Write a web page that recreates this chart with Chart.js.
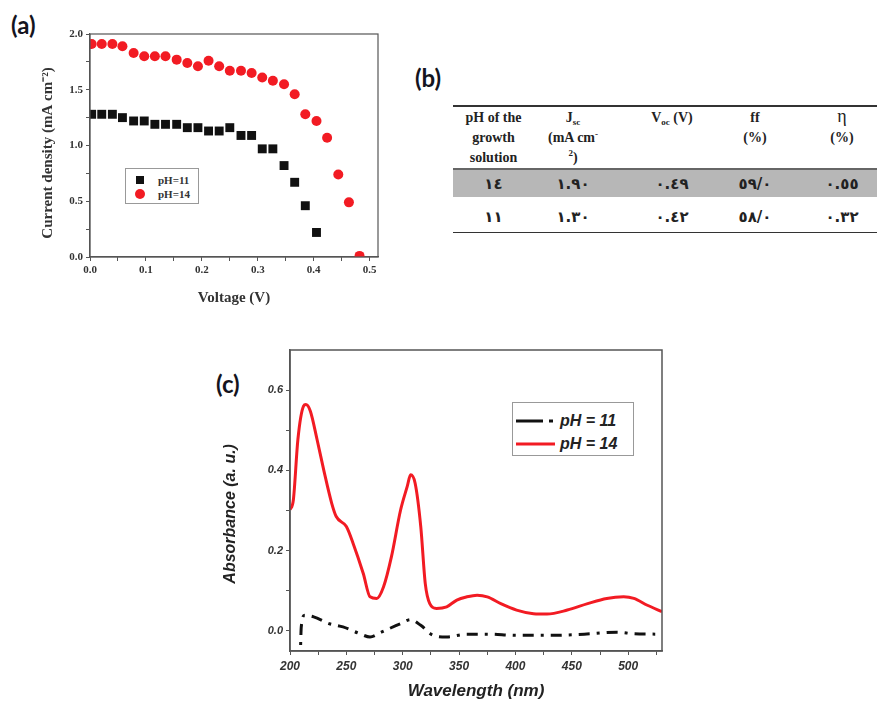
<!DOCTYPE html>
<html>
<head>
<meta charset="utf-8">
<script src="https://cdn.jsdelivr.net/npm/chart.js@4.4.1/dist/chart.umd.min.js"></script>
<style>
  html, body { margin:0; padding:0; background:#fff; width:877px; height:704px; overflow:hidden; position:relative; }
  .panel-label { position:absolute; font-family:"Lato","Open Sans",sans-serif; font-weight:700; font-size:24px; color:#141420; line-height:1; }
  #boxA { position:absolute; left:0; top:0; width:400px; height:320px; }
  #boxC { position:absolute; left:200px; top:340px; width:477px; height:364px; }
  .legendA { position:absolute; left:125px; top:168px; width:72px; height:34px; border:1px solid #999; background:#fff; font-family:"Liberation Serif",serif; font-weight:700; font-size:11px; color:#333; }
  .legendA .row { position:absolute; left:0; height:14px; line-height:14px; }
  .legendA .sym { position:absolute; left:10px; top:3px; width:8px; height:8px; }
  .legendA .txt { position:absolute; left:32px; top:0; white-space:nowrap; }
  .legendC { position:absolute; left:512px; top:402px; width:120px; height:52px; border:1px solid #999; background:#fff; font-family:"Liberation Sans",Arial,sans-serif; font-weight:700; font-style:italic; font-size:16px; color:#222; }
  .legendC .row { position:absolute; left:0; width:120px; height:20px; }
  .legendC svg { position:absolute; left:2px; top:0; }
  .legendC .txt { position:absolute; left:47px; top:1px; line-height:18px; white-space:nowrap; }
  table.tb { position:absolute; left:453px; top:105px; width:453px; border-collapse:collapse; font-family:"Liberation Serif","DejaVu Serif",serif; font-weight:700; font-size:14px; color:#222; table-layout:fixed; }
  table.tb td { text-align:center; padding:0; overflow:hidden; white-space:nowrap; }
  table.tb tr.h td { height:57px; vertical-align:top; line-height:20px; padding-top:1px; border-top:2px solid #333; border-bottom:2px solid #666; }
  table.tb tr.r1 td { height:27px; background:#b7b7b7; vertical-align:middle; font-size:15px; line-height:16px; }
  table.tb tr.r2 td { height:31px; vertical-align:middle; padding-top:4px; font-size:15px; line-height:16px; border-bottom:1.5px solid #333; }
  .ar { font-family:"DejaVu Sans",sans-serif; font-weight:700; }
  .sb { font-size:9px; line-height:0; position:relative; top:3px; }
  .sp { font-size:9px; line-height:0; position:relative; top:-5px; }
</style>
</head>
<body>

<div class="panel-label" style="left:11px; top:13px;">(a)</div>
<div class="panel-label" style="left:415px; top:66px;">(b)</div>
<div class="panel-label" style="left:216px; top:372px;">(c)</div>

<div id="boxA"><canvas id="chartA"></canvas></div>
<div id="boxC"><canvas id="chartC"></canvas></div>

<div class="legendA" id="legA"></div>
<div class="legendC" id="legC"></div>

<table class="tb" id="tableB"></table>

<script>
// ---------- Panel (a): J–V data ----------
const voltage14 = [0.003,0.021,0.040,0.058,0.078,0.097,0.116,0.135,0.155,0.174,0.193,0.212,0.231,0.250,0.270,0.289,0.308,0.327,0.347,0.366,0.385,0.405,0.424,0.444,0.463,0.482];
const current14 = [1.91,1.91,1.91,1.89,1.83,1.80,1.80,1.80,1.77,1.74,1.71,1.76,1.71,1.67,1.67,1.65,1.61,1.58,1.55,1.46,1.28,1.22,1.07,0.74,0.49,0.01];
const voltage11 = [0.003,0.021,0.040,0.058,0.078,0.097,0.116,0.135,0.155,0.174,0.193,0.212,0.231,0.250,0.270,0.289,0.308,0.327,0.347,0.366,0.385,0.405];
const current11 = [1.28,1.28,1.28,1.25,1.22,1.22,1.19,1.19,1.19,1.16,1.16,1.13,1.13,1.16,1.09,1.09,0.97,0.97,0.82,0.67,0.46,0.22];
const labelsA = ['pH=11','pH=14'];
const xTicksA = [0,0.05,0.1,0.15,0.2,0.25,0.3,0.35,0.4,0.45,0.5];
const yTicksA = [0,0.25,0.5,0.75,1.0,1.25,1.5,1.75,2.0];

// ---------- Panel (b): table ----------
const tableHeader = ['pH of the<br>growth<br>solution','J<span class="sb">sc</span><br>(mA cm<span class="sp">-</span><br><span class="sp" style="top:-6px">2</span>)','V<span class="sb">oc</span> (V)','ff<br>(%)','<span style="font-size:18px;font-weight:400;line-height:0">η</span><br>(%)'];
const tablePH   = ['١٤','١١'];
const tableJsc  = ['١.٩٠','١.٣٠'];
const tableVoc  = ['٠.٤٩','٠.٤٢'];
const tableFF   = ['٥٩/٠','٥٨/٠'];
const tableEta  = ['٠.٥٥','٠.٣٢'];

// ---------- Panel (c): absorbance data ----------
const wavelength14 = [200,203,207,212,214,218,224,230,237,241,250,256,265,271,277,283,290,298,304,307,311,316,320,324,330,339,348,357,366,375,387,401,416,428,446,464,481,496,505,517,530];
const absorb14     = [0.302,0.327,0.477,0.560,0.564,0.548,0.477,0.400,0.318,0.285,0.260,0.218,0.143,0.085,0.081,0.110,0.185,0.300,0.360,0.389,0.368,0.260,0.118,0.068,0.056,0.060,0.077,0.085,0.089,0.085,0.068,0.052,0.043,0.042,0.052,0.068,0.081,0.085,0.081,0.064,0.048];
const wavelength11 = [209,210,213,221,235,247,262,271,281,298,307,316,327,339,357,375,401,431,461,490,505,524];
const absorb11     = [-0.08,0.010,0.039,0.035,0.018,0.010,-0.007,-0.015,-0.003,0.018,0.028,0.014,-0.011,-0.015,-0.008,-0.008,-0.011,-0.011,-0.008,-0.003,-0.007,-0.008];
const labelsC = ['pH = 11','pH = 14'];
const xTicksC = [200,225,250,275,300,325,350,375,400,425,450,475,500,525];
const yTicksC = [0,0.1,0.2,0.3,0.4,0.5,0.6];

const RED = '#f21b23', BLACK = '#111111';

const framePlugin = {
  id: 'frame',
  afterDatasetsDraw(chart, args, opts) {
    const {ctx, chartArea: a} = chart;
    ctx.save();
    ctx.strokeStyle = opts.color || '#555';
    ctx.lineWidth = opts.width || 1;
    ctx.strokeRect(a.left, a.top, a.right - a.left, a.bottom - a.top);
    ctx.restore();
  }
};

const isMult = (v, step) => Math.abs(Math.round(v / step) * step - v) < 1e-6;
const zip = (xs, ys) => xs.map((x, i) => ({x, y: ys[i]}));
const NB = '\u00A0';

// ---------- Chart (a) ----------
const serifTick = {family: '"Liberation Serif", serif', weight: 'bold', size: 11};
new Chart(document.getElementById('chartA'), {
  type: 'scatter',
  data: {
    datasets: [
      {label: labelsA[0], data: zip(voltage11, current11), pointStyle: 'rect', pointRadius: 6.3, pointBackgroundColor: BLACK, pointBorderWidth: 0, borderColor: BLACK, backgroundColor: BLACK},
      {label: labelsA[1], data: zip(voltage14, current14), pointStyle: 'circle', pointRadius: 5, pointBackgroundColor: RED, pointBorderWidth: 0, borderColor: RED, backgroundColor: RED}
    ]
  },
  options: {
    responsive: true, maintainAspectRatio: false, animation: false, devicePixelRatio: 1,
    layout: {padding: {left: 0, top: 34, right: 22, bottom: 0}},
    plugins: {legend: {display: false}, tooltip: {enabled: false}, frame: {color: '#555', width: 1.2}},
    scales: {
      x: {
        type: 'linear', min: 0, max: 0.515,
        afterFit: s => { s.height = 63; },
        afterBuildTicks: s => { s.ticks = xTicksA.map(v => ({value: v})); },
        grid: {drawOnChartArea: false, drawTicks: true, tickLength: 4, color: '#555'},
        border: {color: '#555', width: 1.2},
        ticks: {autoSkip: false, maxRotation: 0, padding: 3, color: '#333', font: serifTick,
                callback: v => isMult(v, 0.1) ? v.toFixed(1) : ''},
        title: {display: true, text: 'Voltage (V)', color: '#333', padding: {top: 0, bottom: 13},
                font: {family: '"Liberation Serif", serif', weight: 'bold', size: 15}}
      },
      y: {
        type: 'linear', min: 0, max: 2.0,
        afterFit: s => { s.width = 90; },
        afterBuildTicks: s => { s.ticks = yTicksA.map(v => ({value: v})); },
        grid: {drawOnChartArea: false, drawTicks: true, tickLength: 4, color: '#555'},
        border: {color: '#555', width: 1.2},
        ticks: {autoSkip: false, padding: 3, color: '#333', font: serifTick,
                callback: v => isMult(v, 0.5) ? v.toFixed(1) : ''},
        title: {display: true, text: 'Current density (mA cm⁻²)' + NB.repeat(4), color: '#333', padding: {top: 39, bottom: 0},
                font: {family: '"Liberation Serif", serif', weight: 'bold', size: 15}}
      }
    }
  },
  plugins: [framePlugin]
});

// legend (a)
(function(){
  const el = document.getElementById('legA');
  const syms = [
    '<div class="sym" style="background:'+BLACK+';"></div>',
    '<div class="sym" style="background:'+RED+';border-radius:50%;width:10px;height:10px;left:9px;top:2px;"></div>'
  ];
  labelsA.forEach((lab, i) => {
    el.innerHTML += '<div class="row" style="top:'+(4 + i*14)+'px;width:72px;">'+syms[i]+'<span class="txt">'+lab+'</span></div>';
  });
})();

// ---------- Table (b) ----------
(function(){
  const widths = [81, 78, 120, 46, 128];
  const t = document.getElementById('tableB');
  let html = '<colgroup>' + widths.map(w => '<col style="width:'+w+'px">').join('') + '</colgroup>';
  html += '<tr class="h">' + tableHeader.map(h => '<td>'+h+'</td>').join('') + '</tr>';
  const cls = ['r1','r2'];
  for (let r = 0; r < tablePH.length; r++) {
    const cells = [tablePH[r], tableJsc[r], tableVoc[r], tableFF[r], tableEta[r]];
    html += '<tr class="'+cls[r]+'">' + cells.map(c => '<td><span class="ar">'+c+'</span></td>').join('') + '</tr>';
  }
  t.innerHTML = html;
})();

// ---------- Chart (c) ----------
const sansTick = {family: '"Liberation Sans", Arial, sans-serif', weight: 'bold', style: 'italic', size: 12};
new Chart(document.getElementById('chartC'), {
  type: 'line',
  data: {
    datasets: [
      {label: labelsC[0], data: zip(wavelength11, absorb11), borderColor: BLACK, borderWidth: 3, borderDash: [11,7,3,7], pointRadius: 0, cubicInterpolationMode: 'monotone', fill: false},
      {label: labelsC[1], data: zip(wavelength14, absorb14), borderColor: RED, borderWidth: 3, pointRadius: 0, cubicInterpolationMode: 'monotone', fill: false}
    ]
  },
  options: {
    responsive: true, maintainAspectRatio: false, animation: false, devicePixelRatio: 1,
    layout: {padding: {left: 0, top: 10, right: 15, bottom: 0}},
    plugins: {legend: {display: false}, tooltip: {enabled: false}, frame: {color: '#555', width: 1.5}},
    scales: {
      x: {
        type: 'linear', min: 200, max: 530,
        afterFit: s => { s.height = 53; },
        afterBuildTicks: s => { s.ticks = xTicksC.map(v => ({value: v})); },
        grid: {drawOnChartArea: false, drawTicks: true, tickLength: 4, color: '#555'},
        border: {color: '#555', width: 1.5},
        ticks: {autoSkip: false, maxRotation: 0, padding: 4, color: '#333', font: sansTick,
                callback: v => isMult(v, 50) ? String(v) : ''},
        title: {display: true, text: 'Wavelength (nm)', color: '#222', padding: {top: 0, bottom: 2},
                font: {family: '"Liberation Sans", Arial, sans-serif', weight: 'bold', style: 'italic', size: 17}}
      },
      y: {
        type: 'linear', min: -0.05, max: 0.70,
        afterFit: s => { s.width = 90; },
        afterBuildTicks: s => { s.ticks = yTicksC.map(v => ({value: v})); },
        grid: {drawOnChartArea: false, drawTicks: true, tickLength: 4, color: '#555'},
        border: {color: '#555', width: 1.5},
        ticks: {autoSkip: false, padding: 3, color: '#333', font: {family: '"Liberation Sans", Arial, sans-serif', weight: 'bold', style: 'italic', size: 11},
                callback: v => isMult(v, 0.2) ? v.toFixed(1) : ''},
        title: {display: true, text: 'Absorbance (a. u.)' + NB.repeat(6), color: '#222', padding: {top: 21, bottom: 0},
                font: {family: '"Liberation Sans", Arial, sans-serif', weight: 'bold', style: 'italic', size: 16}}
      }
    }
  },
  plugins: [framePlugin]
});

// legend (c)
(function(){
  const el = document.getElementById('legC');
  const samples = [
    '<svg width="44" height="20"><line x1="1" y1="10" x2="28" y2="10" stroke="'+BLACK+'" stroke-width="3"/><line x1="34" y1="10" x2="38" y2="10" stroke="'+BLACK+'" stroke-width="3"/></svg>',
    '<svg width="44" height="20"><line x1="1" y1="10" x2="40" y2="10" stroke="'+RED+'" stroke-width="3"/></svg>'
  ];
  labelsC.forEach((lab, i) => {
    el.innerHTML += '<div class="row" style="top:'+(8 + i*23)+'px;">'+samples[i]+'<span class="txt">'+lab+'</span></div>';
  });
})();
</script>
</body>
</html>
